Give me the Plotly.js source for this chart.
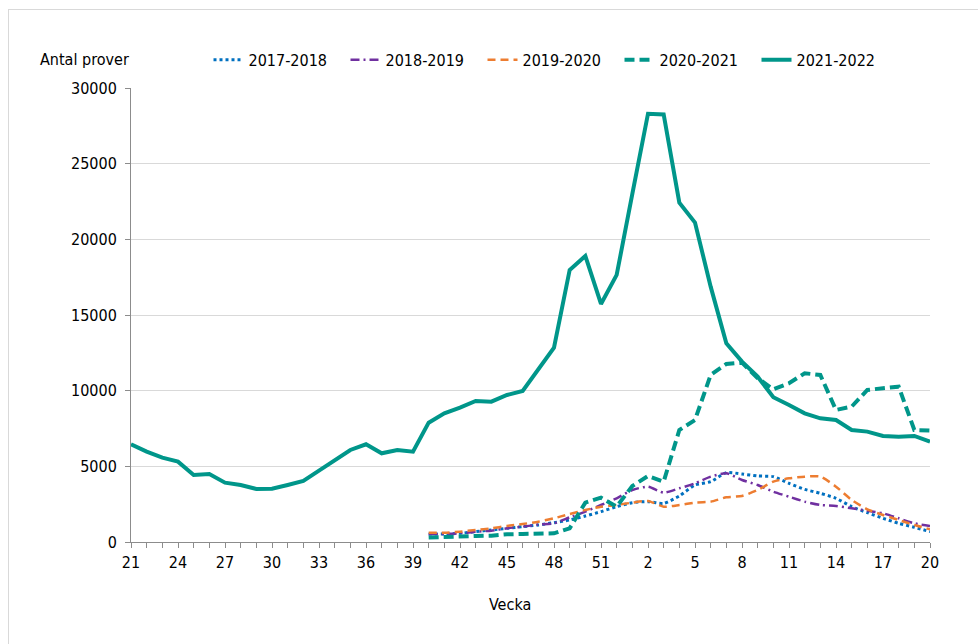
<!DOCTYPE html>
<html>
<head>
<meta charset="utf-8">
<script src="https://cdn.plot.ly/plotly-3.0.1.min.js"></script>
<style>
  html, body { margin: 0; padding: 0; background: #fff; overflow: hidden; }
  #wrap { position: relative; width: 978px; height: 644px; overflow: hidden; }
  #frame { position: absolute; left: 8px; top: 9px; width: 1000px; height: 700px; border: 1px solid #d9d9d9; pointer-events: none; }
  #chart { position: absolute; left: 0; top: 0; width: 978px; height: 644px; }
</style>
</head>
<body>
<div id="wrap">
  <div id="chart"></div>
  <div id="frame"></div>
</div>
<script>
// Weeks 21..52 then 1..20
const weeks = ["21","22","23","24","25","26","27","28","29","30","31","32","33","34","35","36","37","38","39","40","41","42","43","44","45","46","47","48","49","50","51","52","1","2","3","4","5","6","7","8","9","10","11","12","13","14","15","16","17","18","19","20"];
const tickWeeks = ["21","24","27","30","33","36","39","42","45","48","51","2","5","8","11","14","17","20"];

// Seasons that start at week 40
const weeksFrom40 = ["40","41","42","43","44","45","46","47","48","49","50","51","52","1","2","3","4","5","6","7","8","9","10","11","12","13","14","15","16","17","18","19","20"];

const s2017_2018 = [530,530,575,683,793,905,1013,1124,1278,1454,1718,2005,2335,2600,2666,2556,3040,3767,3987,4580,4494,4362,4318,3877,3480,3217,2888,2335,1938,1566,1236,972,683];
const s2018_2019 = [510,530,575,683,750,905,1013,1150,1234,1630,2005,2445,2888,3437,3657,3260,3547,3877,4318,4538,4098,3767,3327,2996,2666,2445,2380,2225,2070,1896,1566,1236,1058];
const s2019_2020 = [617,617,683,793,905,1058,1190,1344,1566,1850,2115,2335,2445,2600,2710,2335,2445,2600,2666,2954,3040,3437,3987,4208,4318,4318,3657,2776,2160,1784,1454,1124,840];
const s2020_2021 = [300,350,350,400,420,510,530,530,575,905,2600,2930,2335,3700,4360,3987,7400,8064,11037,11765,11850,10820,10090,10490,11150,11037,8724,8945,10046,10160,10266,7403,7360];
const s2021_2022 = [6457,5970,5574,5310,4428,4494,3920,3767,3503,3525,3767,4032,4715,5420,6080,6457,5860,6080,5970,7886,8505,8879,9319,9275,9716,9980,11368,12844,17977,18903,15730,17647,23000,28300,28250,22426,21104,16875,13130,11917,10925,9563,9055,8505,8175,8064,7403,7293,7006,6962,7006,6630];

const seriesNames = ["2017-2018","2018-2019","2019-2020","2020-2021","2021-2022"];

const FONT = "DejaVu Sans Condensed, DejaVu Sans, sans-serif";
const FS = 16;
const TEAL = "#00968a";

const traces = [
  { x: weeksFrom40, y: s2017_2018, name: seriesNames[0], type: "scatter", mode: "lines",
    line: { color: "#0070c0", width: 3, dash: "3px,3px", shape: "spline", smoothing: 0.6 } },
  { x: weeksFrom40, y: s2018_2019, name: seriesNames[1], type: "scatter", mode: "lines",
    line: { color: "#7030a0", width: 2.5, dash: "9px,4px,2px,4px", shape: "spline", smoothing: 0.6 } },
  { x: weeksFrom40, y: s2019_2020, name: seriesNames[2], type: "scatter", mode: "lines",
    line: { color: "#ed7d31", width: 2.5, dash: "8px,5px", shape: "spline", smoothing: 0.6 } },
  { x: weeksFrom40, y: s2020_2021, name: seriesNames[3], type: "scatter", mode: "lines",
    line: { color: TEAL, width: 4, dash: "10px,5px" } },
  { x: weeks, y: s2021_2022, name: seriesNames[4], type: "scatter", mode: "lines",
    line: { color: TEAL, width: 4 } }
];

const layout = {
  width: 978, height: 644,
  margin: { l: 131, r: 48, t: 88, b: 102, pad: 0 },
  paper_bgcolor: "rgba(0,0,0,0)",
  plot_bgcolor: "#ffffff",
  font: { family: FONT, size: FS, color: "#000" },
  showlegend: true,
  legend: {
    orientation: "h", x: 0.097, xanchor: "left", y: 1.062, yanchor: "middle",
    font: { family: FONT, size: FS, color: "#000" },
    entrywidth: 92, entrywidthmode: "pixels", itemwidth: 30,
    tracegroupgap: 0, bgcolor: "rgba(0,0,0,0)", traceorder: "normal"
  },
  xaxis: {
    type: "category", categoryorder: "array", categoryarray: weeks,
    range: [0, weeks.length - 1],
    tickmode: "array", tickvals: tickWeeks, ticktext: tickWeeks,
    showgrid: false, zeroline: false,
    showline: true, linecolor: "#8c8c8c", linewidth: 1,
    ticks: "", ticklabelstandoff: 6,
    tickfont: { family: FONT, size: FS, color: "#000" },
    fixedrange: true
  },
  xaxis2: {
    type: "category", categoryorder: "array", categoryarray: weeks,
    range: [0, weeks.length - 1], overlaying: "x", matches: "x",
    tickmode: "array", tickvals: weeks, showticklabels: false,
    ticks: "outside", ticklen: 5, tickcolor: "#8c8c8c", tickwidth: 1,
    showgrid: false, zeroline: false, showline: false, anchor: "y"
  },
  yaxis: {
    range: [0, 30000], tickmode: "array",
    tickvals: [0,5000,10000,15000,20000,25000,30000],
    ticktext: ["0","5000","10000","15000","20000","25000","30000"],
    showgrid: true, gridcolor: "#d9d9d9", gridwidth: 1,
    zeroline: false, showline: true, linecolor: "#8c8c8c", linewidth: 1,
    ticks: "outside", ticklen: 5, tickcolor: "#8c8c8c", ticklabelstandoff: 5,
    tickfont: { family: FONT, size: FS, color: "#000" },
    fixedrange: true
  },
  annotations: [
    { text: "Antal prover", xref: "paper", yref: "paper", x: -0.1164, y: 1.0617,
      xanchor: "left", yanchor: "middle", showarrow: false,
      font: { family: FONT, size: FS, color: "#000" } },
    { text: "Vecka", xref: "paper", yref: "paper", x: 0.474, y: -0.1366,
      xanchor: "center", yanchor: "middle", showarrow: false,
      font: { family: FONT, size: FS, color: "#000" } }
  ]
};

// invisible trace on xaxis2 that only carries the weekly tick marks
traces.push({ x: weeks, y: weeks.map(() => null), xaxis: "x2", yaxis: "y", showlegend: false,
  type: "scatter", mode: "lines", hoverinfo: "skip" });

Plotly.newPlot("chart", traces, layout, { displayModeBar: false, staticPlot: true });
</script>
</body>
</html>
